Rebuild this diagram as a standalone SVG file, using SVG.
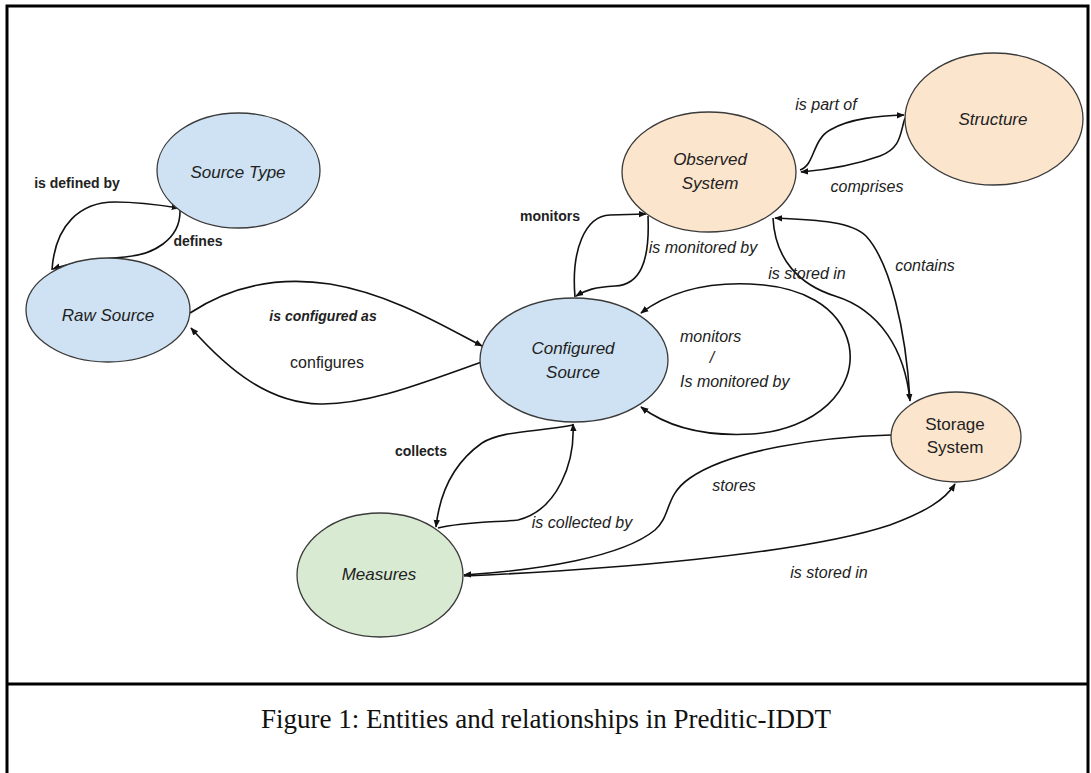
<svg xmlns="http://www.w3.org/2000/svg" width="1091" height="773" viewBox="0 0 1091 773">
<style>
.node ellipse{stroke:#3a3a3a;stroke-width:1.3}
.blue{fill:#cfe2f3}.orange{fill:#fce5cd}.green{fill:#d9ead3}
.nt{font-family:"Liberation Sans",Arial,sans-serif;font-size:17px;font-style:italic;fill:#222;text-anchor:middle}
.nt.up{font-style:normal}
.edge path{fill:none;stroke:#111;stroke-width:1.6}
.lb{font-family:"Liberation Sans",Arial,sans-serif;font-size:16px;fill:#222;text-anchor:middle}
.it{font-style:italic}
.bd{font-weight:bold;font-size:14px}
.frame{stroke:#000;stroke-width:3;fill:none}
.cap{font-family:"Liberation Serif","Times New Roman",serif;font-size:27px;fill:#111;text-anchor:middle}
</style>
<defs>
<marker id="ah" viewBox="0 0 10 10" refX="9" refY="5" markerWidth="8" markerHeight="8" markerUnits="userSpaceOnUse" orient="auto">
<path d="M0,1 L10,5 L0,9 z" fill="#111"/>
</marker>
</defs>
<rect width="1091" height="773" fill="#fff"/>
<g id="frame">
<path class="frame" d="M7,775 L7,6 L1088,6 L1088,775"/>
<line class="frame" x1="7" y1="684" x2="1088" y2="684"/>
<text class="cap" x="546" y="728">Figure 1: Entities and relationships in Preditic-IDDT</text>
</g>
<g id="connectors" class="edge">
<path d="M52,270 C55,225 80,202 115,202 C140,202 160,205 179,208" marker-end="url(#ah)"/>
<path d="M180,210 C181,240 152,255 125,257 C95,259 72,262 53,269" marker-end="url(#ah)"/>
<path d="M190,313 C240,280 290,278 330,284 C390,294 440,324 482,346" marker-end="url(#ah)"/>
<path d="M482,362 C430,380 370,405 320,404 C270,403 230,372 191,328" marker-end="url(#ah)"/>
<path d="M575,297 C571,250 585,216 610,215 L646,214" marker-end="url(#ah)"/>
<path d="M648,216 C650,262 640,285 615,286 C595,287 586,290 576,296" marker-end="url(#ah)"/>
<path d="M800,170 C815,165 812,140 830,130 C850,118 880,116 904,115" marker-end="url(#ah)"/>
<path d="M905,118 C900,132 902,148 880,156 C855,165 825,170 801,172" marker-end="url(#ah)"/>
<path d="M773,218 C775,260 800,285 835,296 C880,310 905,350 910,401" marker-end="url(#ah)"/>
<path d="M910,400 C906,330 890,262 866,236 C852,222 820,220 775,218" marker-end="url(#ah)"/>
<path d="M750,284 C700,282 665,295 641,313" marker-end="url(#ah)"/>
<path d="M750,284 C800,286 840,305 849,345 C858,390 815,430 752,434 C700,437 665,425 641,407" marker-end="url(#ah)"/>
<path d="M573,425 C540,432 502,430 482,443 C455,462 440,490 436,527" marker-end="url(#ah)"/>
<path d="M438,528 C462,522 500,522 518,520 C558,510 575,462 573,424" marker-end="url(#ah)"/>
<path d="M891,435 C820,437 730,450 690,478 C664,496 672,515 655,530 C622,557 540,570 464,575" marker-end="url(#ah)"/>
<path d="M464,576 C600,570 800,555 890,525 C925,512 945,500 955,484" marker-end="url(#ah)"/>
</g>
<g id="n-source-type" class="node">
<ellipse class="blue" cx="238.5" cy="170.5" rx="81.5" ry="57.5"/>
<text class="nt" x="238" y="178">Source Type</text>
</g>
<g id="n-raw-source" class="node">
<ellipse class="blue" cx="108" cy="310" rx="82" ry="52"/>
<text class="nt" x="108" y="321">Raw Source</text>
</g>
<g id="n-configured-source" class="node">
<ellipse class="blue" cx="574" cy="360" rx="94" ry="62"/>
<text class="nt" x="573" y="354">Configured</text>
<text class="nt" x="573" y="378">Source</text>
</g>
<g id="n-observed-system" class="node">
<ellipse class="orange" cx="709" cy="172" rx="87" ry="60"/>
<text class="nt" x="710" y="165">Observed</text>
<text class="nt" x="710" y="189">System</text>
</g>
<g id="n-structure" class="node">
<ellipse class="orange" cx="994" cy="119" rx="89" ry="66"/>
<text class="nt" x="993" y="125">Structure</text>
</g>
<g id="n-storage-system" class="node">
<ellipse class="orange" cx="956" cy="437" rx="65" ry="45"/>
<text class="nt up" x="955" y="430">Storage</text>
<text class="nt up" x="955" y="453">System</text>
</g>
<g id="n-measures" class="node">
<ellipse class="green" cx="380" cy="575" rx="83" ry="62"/>
<text class="nt" x="379" y="580">Measures</text>
</g>
<g id="labels">
<text class="lb bd" x="77" y="188">is defined by</text>
<text class="lb bd" x="198" y="246">defines</text>
<text class="lb bd it" x="323" y="321">is configured as</text>
<text class="lb" x="327" y="368">configures</text>
<text class="lb bd" x="550" y="221">monitors</text>
<text class="lb it" x="703" y="253">is monitored by</text>
<text class="lb it" x="826" y="110">is part of</text>
<text class="lb it" x="867" y="192">comprises</text>
<text class="lb it" x="807" y="279">is stored in</text>
<text class="lb it" x="925" y="271">contains</text>
<text class="lb it" x="680" y="342" style="text-anchor:start">monitors</text>
<text class="lb it" x="712" y="363">/</text>
<text class="lb it" x="680" y="387" style="text-anchor:start">Is monitored by</text>
<text class="lb bd" x="421" y="456">collects</text>
<text class="lb it" x="582" y="528">is collected by</text>
<text class="lb it" x="734" y="491">stores</text>
<text class="lb it" x="829" y="578">is stored in</text>
</g>
</svg>
